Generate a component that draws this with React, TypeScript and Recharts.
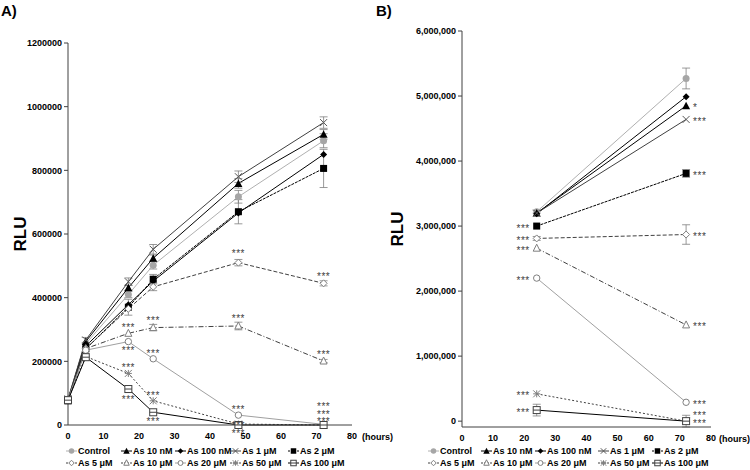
import { ErrorBar, Label, LabelList, Line, LineChart, XAxis, YAxis } from "recharts";

const FONT = "Arial, 'Liberation Sans', sans-serif";
const AXIS_COLOR = "#404040";
const SIG_COLOR = "#404040";

// ---- panel A: 0-72 h time course ----
const hoursA = [0, 5, 17, 24, 48, 72];
const controlA = [80000, 255000, 410000, 502000, 717000, 893000];
const as10nMA = [80000, 262000, 431000, 524000, 759000, 913000];
const as100nMA = [78000, 248000, 378000, 452000, 666000, 850000];
const as1uMA = [82000, 267000, 450000, 552000, 780000, 950000];
const as2uMA = [76000, 239000, 370000, 458000, 670000, 806000];
const as5uMA = [80000, 240000, 365000, 434000, 510000, 445000];
const as10uMA = [80000, 240000, 288000, 306000, 311000, 201000];
const as20uMA = [80000, 235000, 262000, 208000, 31000, 2000];
const as50uMA = [80000, 215000, 162000, 76000, 3000, 0];
const as100uMA = [78000, 213000, 113000, 40000, 0, 0];

const controlErrA = [0, 0, 10000, 12000, 20000, 22000];
const as10nMErrA = [0, 0, 8000, 10000, 15000, 15000];
const as1uMErrA = [0, 8000, 12000, 15000, 18000, 18000];
const as2uMErrA = [0, 0, 25000, 15000, 38000, 60000];
const as5uMErrA = [0, 0, 0, 12000, 10000, 8000];
const as10uMErrA = [0, 0, 0, 10000, 12000, 5000];

const sigA: Record<string, string[]> = {
  as5uM: ["", "", "", "", "***", "***"],
  as10uM: ["", "", "***", "***", "***", "***"],
  as20uM: ["", "", "***", "***", "***", "***"],
  as50uM: ["", "", "***", "***", "***", "***"],
  as100uM: ["", "", "***", "***", "***", "***"],
};

// ---- panel B: 24 h vs 72 h ----
const hoursB = [24, 72];
const controlB = [3220000, 5270000];
const as10nMB = [3200000, 4850000];
const as100nMB = [3190000, 4990000];
const as1uMB = [3200000, 4640000];
const as2uMB = [3000000, 3810000];
const as5uMB = [2810000, 2870000];
const as10uMB = [2660000, 1480000];
const as20uMB = [2200000, 290000];
const as50uMB = [420000, 0];
const as100uMB = [170000, 0];

const controlErrB = [20000, 160000];
const as2uMErrB = [0, 60000];
const as5uMErrB = [30000, 150000];
const as100uMErrB = [90000, 90000];

const sigB: Record<string, string[]> = {
  as10nM: ["", "*"],
  as1uM: ["", "***"],
  as2uM: ["***", "***"],
  as5uM: ["***", "***"],
  as10uM: ["***", "***"],
  as20uM: ["***", "***"],
  as50uM: ["***", "***"],
  as100uM: ["***", "***"],
};

const yTicksA = [0, 200000, 400000, 600000, 800000, 1000000, 1200000];
const yTicksB = [0, 1000000, 2000000, 3000000, 4000000, 5000000, 6000000];
const xTicks = [0, 10, 20, 30, 40, 50, 60, 70, 80];

type MarkerKind =
  | "circle"
  | "triangle"
  | "diamond"
  | "cross"
  | "square"
  | "openDiamond"
  | "openTriangle"
  | "openCircle"
  | "star"
  | "boxLine";

interface SeriesDef {
  key: string;
  name: string;
  color: string;
  dash?: string;
  marker: MarkerKind;
}

const SERIES: SeriesDef[] = [
  { key: "control", name: "Control", color: "#b0b0b0", marker: "circle" },
  { key: "as10nM", name: "As 10 nM", color: "#000", marker: "triangle" },
  { key: "as100nM", name: "As 100 nM", color: "#000", marker: "diamond" },
  { key: "as1uM", name: "As 1 μM", color: "#404040", marker: "cross" },
  { key: "as2uM", name: "As 2 μM", color: "#000", dash: "3 1", marker: "square" },
  { key: "as5uM", name: "As 5 μM", color: "#404040", dash: "4 2", marker: "openDiamond" },
  { key: "as10uM", name: "As 10 μM", color: "#404040", dash: "5 2 1 2", marker: "openTriangle" },
  { key: "as20uM", name: "As 20 μM", color: "#a0a0a0", marker: "openCircle" },
  { key: "as50uM", name: "As 50 μM", color: "#404040", dash: "2 2", marker: "star" },
  { key: "as100uM", name: "As 100 μM", color: "#000", marker: "boxLine" },
];

const valuesA: Record<string, number[]> = {
  control: controlA, as10nM: as10nMA, as100nM: as100nMA, as1uM: as1uMA, as2uM: as2uMA,
  as5uM: as5uMA, as10uM: as10uMA, as20uM: as20uMA, as50uM: as50uMA, as100uM: as100uMA,
};
const errorsA: Record<string, number[]> = {
  control: controlErrA, as10nM: as10nMErrA, as1uM: as1uMErrA, as2uM: as2uMErrA,
  as5uM: as5uMErrA, as10uM: as10uMErrA,
};
const valuesB: Record<string, number[]> = {
  control: controlB, as10nM: as10nMB, as100nM: as100nMB, as1uM: as1uMB, as2uM: as2uMB,
  as5uM: as5uMB, as10uM: as10uMB, as20uM: as20uMB, as50uM: as50uMB, as100uM: as100uMB,
};
const errorsB: Record<string, number[]> = {
  control: controlErrB, as2uM: as2uMErrB, as5uM: as5uMErrB, as100uM: as100uMErrB,
};

// placement of the significance marks, [dx, dy] from the point (dy = centre of the stars)
const sigPlaceA: Record<string, [number, number][]> = {
  as5uM: [[0, 0], [0, 0], [0, 0], [0, 0], [0, -11], [0, -9]],
  as10uM: [[0, 0], [0, 0], [0, -8], [0, -9], [0, -9], [0, -9]],
  as20uM: [[0, 0], [0, 0], [0, 7], [0, -7], [0, -8], [0, -20]],
  as50uM: [[0, 0], [0, 0], [0, -8], [0, -7], [0, -1], [0, -13]],
  as100uM: [[0, 0], [0, 0], [0, 8], [0, 7], [0, 6], [0, -6]],
};
const sigPlaceB: Record<string, [number, number][]> = {
  as10nM: [[-7, 0], [7, 0]],
  as1uM: [[-7, 0], [7, 0]],
  as2uM: [[-7, 0], [7, 0]],
  as5uM: [[-7, 0], [7, 0]],
  as10uM: [[-7, 0], [7, 0]],
  as20uM: [[-7, 0], [7, 0]],
  as50uM: [[-7, 0], [7, -8]],
  as100uM: [[-7, 0], [7, 0]],
};

function buildRows(
  hours: number[],
  values: Record<string, number[]>,
  errors: Record<string, number[]>,
  sig: Record<string, string[]>,
) {
  return hours.map((h, i) => {
    const row: Record<string, number | string> = { hour: h };
    for (const s of SERIES) {
      row[s.key] = values[s.key][i];
      if (errors[s.key]) row[`${s.key}_err`] = errors[s.key][i];
      row[`${s.key}_sig`] = sig[s.key]?.[i] ?? "";
    }
    return row;
  });
}

const rowsA = buildRows(hoursA, valuesA, errorsA, sigA);
const rowsB = buildRows(hoursB, valuesB, errorsB, sigB);

function Marker({ kind, cx, cy, s }: { kind: MarkerKind; cx: number; cy: number; s: number }) {
  const h = s / 2;
  switch (kind) {
    case "circle":
      return <circle cx={cx} cy={cy} r={h} fill="#a6a6a6" />;
    case "triangle":
      return (
        <polygon
          points={`${cx},${cy - h - 0.5} ${cx + h + 0.5},${cy + h} ${cx - h - 0.5},${cy + h}`}
          fill="#000"
        />
      );
    case "diamond":
      return (
        <polygon points={`${cx},${cy - h} ${cx + h},${cy} ${cx},${cy + h} ${cx - h},${cy}`} fill="#000" />
      );
    case "cross":
      return (
        <g stroke="#595959" strokeWidth={1}>
          <line x1={cx - h} y1={cy - h} x2={cx + h} y2={cy + h} />
          <line x1={cx - h} y1={cy + h} x2={cx + h} y2={cy - h} />
        </g>
      );
    case "square":
      return <rect x={cx - h} y={cy - h} width={s} height={s} fill="#000" />;
    case "openDiamond":
      return (
        <polygon
          points={`${cx},${cy - h} ${cx + h},${cy} ${cx},${cy + h} ${cx - h},${cy}`}
          fill="#fff"
          stroke="#7f7f7f"
        />
      );
    case "openTriangle":
      return (
        <polygon
          points={`${cx},${cy - h - 0.5} ${cx + h},${cy + h - 0.5} ${cx - h},${cy + h - 0.5}`}
          fill="#fff"
          stroke="#7f7f7f"
        />
      );
    case "openCircle":
      return <circle cx={cx} cy={cy} r={h - 0.3} fill="#fff" stroke="#7f7f7f" />;
    case "star":
      return (
        <g stroke="#7f7f7f" strokeWidth={1}>
          <line x1={cx - h} y1={cy - h} x2={cx + h} y2={cy + h} />
          <line x1={cx - h} y1={cy + h} x2={cx + h} y2={cy - h} />
          <line x1={cx} y1={cy - h} x2={cx} y2={cy + h} />
          <line x1={cx - h} y1={cy} x2={cx + h} y2={cy} />
        </g>
      );
    case "boxLine":
      return (
        <g stroke="#404040" strokeWidth={1}>
          <rect x={cx - h} y={cy - h} width={s} height={s} fill="#fff" />
          <line x1={cx - h} y1={cy} x2={cx + h} y2={cy} />
        </g>
      );
  }
}

function SigMark(props: any, place: [number, number][] | undefined) {
  const value = props.value;
  if (!value || !place) return null;
  const idx = props.index ?? 0;
  const x = props.x ?? props.viewBox?.x;
  const y = props.y ?? props.viewBox?.y;
  const [dx, dy] = place[idx] ?? [0, 0];
  const anchor = dx < 0 ? "end" : dx > 0 ? "start" : "middle";
  return (
    <text
      key={`sig-${idx}`}
      x={x + dx}
      y={y + dy + 5.5}
      textAnchor={anchor}
      fontSize={10}
      letterSpacing={0.5}
      fontFamily={FONT}
      fill={SIG_COLOR}
    >
      {value}
    </text>
  );
}

function Panel({
  rows,
  width,
  yAxisWidth,
  marginRight,
  top,
  bottom,
  yTicks,
  yFormat,
  errors,
  sigPlace,
  rluX,
  hoursDx,
}: {
  rows: Record<string, number | string>[];
  width: number;
  yAxisWidth: number;
  marginRight: number;
  top: number;
  bottom: number;
  yTicks: number[];
  yFormat: (v: number) => string;
  errors: Record<string, number[]>;
  sigPlace: Record<string, [number, number][]>;
  rluX: number;
  hoursDx: number;
}) {
  const tickStyle = { fill: "#000", fontSize: 9, fontWeight: 700, fontFamily: FONT };
  return (
    <LineChart
      width={width}
      height={470}
      data={rows}
      margin={{ top, right: marginRight, bottom: 470 - bottom - 20, left: 0 }}
    >
      <XAxis
        dataKey="hour"
        type="number"
        domain={[0, 80]}
        ticks={xTicks}
        height={20}
        tick={tickStyle}
        tickLine={false}
        tickSize={6}
        tickMargin={2}
        axisLine={{ stroke: AXIS_COLOR }}
      >
        <Label
          content={({ viewBox }: any) => (
            <text
              x={viewBox.x + viewBox.width + hoursDx}
              y={viewBox.y + 14.5}
              fontSize={9}
              fontWeight={700}
              fontFamily={FONT}
              fill="#000"
            >
              (hours)
            </text>
          )}
        />
      </XAxis>
      <YAxis
        type="number"
        domain={[yTicks[0], yTicks[yTicks.length - 1]]}
        ticks={yTicks}
        width={yAxisWidth}
        tick={tickStyle}
        tickFormatter={yFormat}
        tickSize={4}
        tickMargin={2}
        tickLine={{ stroke: AXIS_COLOR }}
        axisLine={{ stroke: AXIS_COLOR }}
      >
        <Label
          content={({ viewBox }: any) => {
            const cy = viewBox.y + viewBox.height / 2;
            return (
              <text
                x={rluX}
                y={cy}
                transform={`rotate(-90 ${rluX} ${cy})`}
                textAnchor="middle"
                dominantBaseline="central"
                fontSize={17}
                fontWeight={700}
                fontFamily={FONT}
                fill="#000"
              >
                RLU
              </text>
            );
          }}
        />
      </YAxis>
      {SERIES.map((s) => (
        <Line
          key={s.key}
          dataKey={s.key}
          name={s.name}
          stroke={s.color}
          strokeWidth={1}
          strokeDasharray={s.dash}
          isAnimationActive={false}
          activeDot={false}
          dot={(p: any) => (
            <g key={`${s.key}-${p.index}`}>
              <Marker kind={s.marker} cx={p.cx} cy={p.cy} s={7} />
            </g>
          )}
        >
          {errors[s.key] && (
            <ErrorBar
              dataKey={`${s.key}_err`}
              direction="y"
              width={4}
              stroke="#7f7f7f"
              strokeWidth={0.8}
            />
          )}
          {sigPlace[s.key] && (
            <LabelList
              dataKey={`${s.key}_sig`}
              content={(p: any) => SigMark(p, sigPlace[s.key])}
            />
          )}
        </Line>
      ))}
    </LineChart>
  );
}

function LegendBlock({ cols, left }: { cols: number[]; left: number }) {
  const rowsY = [451, 463];
  return (
    <>
      {SERIES.map((s, i) => {
        const row = Math.floor(i / 5);
        const col = i % 5;
        return (
          <div
            key={s.key}
            style={{
              position: "absolute",
              left: left + cols[col],
              top: rowsY[row] - 6,
              height: 12,
              display: "flex",
              alignItems: "center",
              whiteSpace: "nowrap",
              fontFamily: FONT,
              fontSize: 9,
              fontWeight: 700,
              color: "#000",
            }}
          >
            <svg width={11} height={10} style={{ display: "block" }}>
              <line
                x1={0}
                y1={5}
                x2={11}
                y2={5}
                stroke={s.color}
                strokeWidth={1}
                strokeDasharray={s.dash ? "2 1" : undefined}
              />
              <Marker kind={s.marker} cx={5.5} cy={5} s={5.5} />
            </svg>
            <span style={{ marginLeft: 1 }}>{s.name}</span>
          </div>
        );
      })}
    </>
  );
}

export default function App() {
  return (
    <div
      style={{
        position: "absolute",
        left: 0,
        top: 0,
        width: 750,
        height: 470,
        background: "#fff",
        overflow: "hidden",
      }}
    >
      <div style={{ position: "absolute", left: 0, top: 0 }}>
        <Panel
          rows={rowsA}
          width={400}
          yAxisWidth={68}
          marginRight={48}
          top={43}
          bottom={425}
          yTicks={yTicksA}
          yFormat={(v) => String(v)}
          errors={errorsA}
          sigPlace={sigPlaceA}
          rluX={20}
          hoursDx={10}
        />
      </div>
      <div style={{ position: "absolute", left: 380, top: 0 }}>
        <Panel
          rows={rowsB}
          width={370}
          yAxisWidth={82}
          marginRight={39}
          top={31}
          bottom={427}
          yTicks={yTicksB}
          yFormat={(v) => v.toLocaleString("en-US")}
          errors={errorsB}
          sigPlace={sigPlaceB}
          rluX={17}
          hoursDx={8}
        />
      </div>
      <LegendBlock cols={[66, 121, 175, 230, 288]} left={0} />
      <LegendBlock cols={[0, 53, 107, 170, 224]} left={428} />
      <div
        style={{ position: "absolute", left: 1, top: 2, fontFamily: FONT, fontSize: 15, fontWeight: 700 }}
      >
        A)
      </div>
      <div
        style={{ position: "absolute", left: 376, top: 2, fontFamily: FONT, fontSize: 15, fontWeight: 700 }}
      >
        B)
      </div>
    </div>
  );
}
